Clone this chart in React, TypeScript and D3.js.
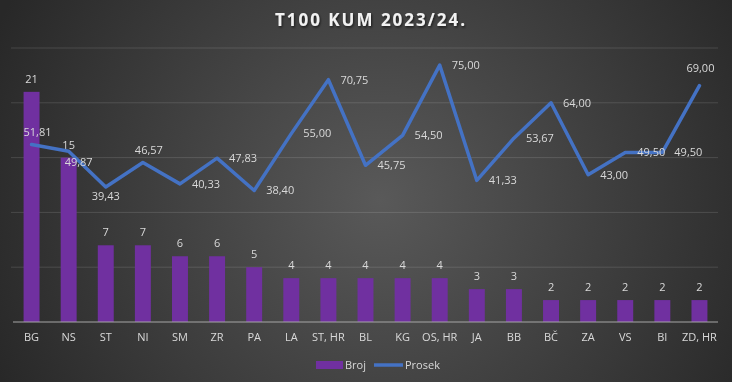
import React from "react";
import * as d3 from "d3";

const categories = ["BG","NS","ST","NI","SM","ZR","PA","LA","ST, HR","BL","KG","OS, HR","JA","BB","BČ","ZA","VS","BI","ZD, HR"];
const broj = [21,15,7,7,6,6,5,4,4,4,4,4,3,3,2,2,2,2,2];
const prosek = [51.81,49.87,39.43,46.57,40.33,47.83,38.4,55.0,70.75,45.75,54.5,75.0,41.33,53.67,64.0,43.0,49.5,49.5,69.0];
const prosekLabelPos = ["above","belowRight","below","above","right","right","right","right","right","right","right","right","right","right","right","right","right","right","aboveHigh"];
const leftTicks = [0,5,10,15,20,25];
const title = "T100 KUM 2023/24.";
const seriesNames = ["Broj","Prosek"];

const W = 732, H = 382;
const FONT = "'Open Sans', sans-serif";

export default function App() {
  const x = d3.scaleBand<string>().domain(categories).range([13, 718]).padding(0);
  const yL = d3.scaleLinear().domain([0, 25]).range([322, 48]);
  const yR = d3.scaleLinear().domain([0, 80]).range([322, 48]);
  const bw = x.bandwidth() * 0.43;
  const cx = (c: string) => (x(c) as number) + x.bandwidth() / 2;
  const line = d3.line<number>().x((_, i) => cx(categories[i])).y(d => yR(d));
  const fmt = (v: number) => v.toFixed(2).replace(".", ",");

  const labelProps = (pos: string, px: number, py: number) => {
    switch (pos) {
      case "above": return { x: px + 6, y: py - 12, anchor: "middle" };
      case "aboveHigh": return { x: px + 1, y: py - 18, anchor: "middle" };
      case "below": return { x: px, y: py + 9, anchor: "middle" };
      case "belowRight": return { x: px + 10, y: py + 11, anchor: "middle" };
      default: return { x: px + 12, y: py, anchor: "start" };
    }
  };

  return (
    <div style={{ position: "fixed", left: 0, top: 0 }}>
      <svg width={W} height={H} style={{ display: "block" }}>
        <defs>
          <radialGradient id="bg" gradientUnits="userSpaceOnUse" cx={380} cy={200} r={420}>
            <stop offset="0" stopColor="#595959" />
            <stop offset="1" stopColor="#282828" />
          </radialGradient>
          <filter id="tshadow" x="-10%" y="-30%" width="120%" height="160%">
            <feDropShadow dx="1" dy="1.5" stdDeviation="1" floodColor="#000" floodOpacity="0.6" />
          </filter>
        </defs>
        <rect x={0} y={0} width={W} height={H} fill="url(#bg)" />
        <text x={371} y={26} textAnchor="middle" fill="#f2f2f2" fontFamily={FONT} fontWeight={700}
          fontSize={17} letterSpacing={2} filter="url(#tshadow)">{title}</text>
        {leftTicks.slice(1).map(t => (
          <line key={t} x1={11} x2={718} y1={yL(t)} y2={yL(t)} stroke="#ffffff" strokeOpacity={0.13} strokeWidth={1} />
        ))}
        {categories.map((c, i) => (
          <rect key={c} x={cx(c) - bw / 2} y={yL(broj[i])} width={bw} height={yL(0) - yL(broj[i])} fill="#7030A0" />
        ))}
        <line x1={13} x2={718} y1={yL(0)} y2={yL(0)} stroke="#a6a6a6" strokeWidth={1} />
        {categories.map((c, i) => (
          <text key={c} x={cx(c)} y={yL(broj[i]) - 9} textAnchor="middle" fill="#d9d9d9" fontFamily={FONT} fontSize={11}>{broj[i]}</text>
        ))}
        <path d={line(prosek) || ""} fill="none" stroke="#4472C4" strokeWidth={3.5} strokeLinejoin="round" strokeLinecap="round" />
        {prosek.map((v, i) => {
          const p = labelProps(prosekLabelPos[i], cx(categories[i]), yR(v));
          return (
            <text key={i} x={p.x} y={p.y} dy="0.35em" textAnchor={p.anchor as any} fill="#d9d9d9" fontFamily={FONT} fontSize={11}>{fmt(v)}</text>
          );
        })}
        {categories.map(c => (
          <text key={c} x={cx(c)} y={341} textAnchor="middle" fill="#d9d9d9" fontFamily={FONT} fontSize={11}>{c}</text>
        ))}
        <rect x={316} y={361} width={27} height={8} fill="#7030A0" />
        <text x={345} y={369} fill="#d9d9d9" fontFamily={FONT} fontSize={11}>{seriesNames[0]}</text>
        <line x1={374} x2={403} y1={365} y2={365} stroke="#4472C4" strokeWidth={3.5} />
        <text x={405} y={369} fill="#d9d9d9" fontFamily={FONT} fontSize={11}>{seriesNames[1]}</text>
      </svg>
    </div>
  );
}
